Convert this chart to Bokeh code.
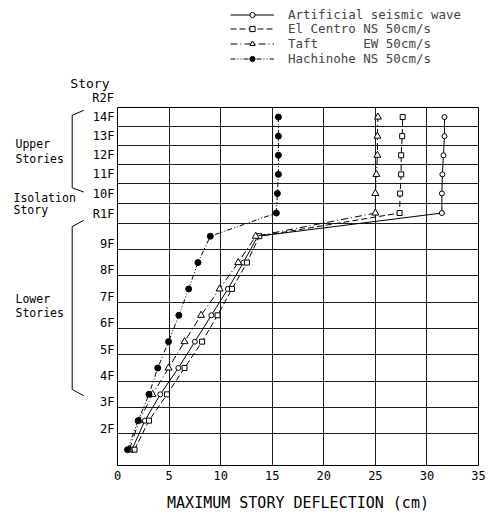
from bokeh.plotting import figure
from bokeh.models import Range1d, FixedTicker, Legend, LegendItem
from bokeh.layouts import column, row
from bokeh.core.properties import value
from bokeh.embed import file_html
from bokeh.resources import INLINE

# ---------------- data ----------------
stories = ["1F", "2F", "3F", "4F", "5F", "6F", "7F", "8F", "9F",
           "R1F", "10F", "11F", "12F", "13F", "14F"]
# relative story heights (drawing scale of the building section)
story_height = [1.2, 1.0, 1.0, 1.0, 1.0, 1.0, 1.0, 1.0, 1.0,
                0.76, 0.725, 0.725, 0.725, 0.725, 0.725]
floor_names = ["1F", "2F", "3F", "4F", "5F", "6F", "7F", "8F", "9F",
               "R1F", "10F", "11F", "12F", "13F", "14F", "R2F"]
x_ticks = [0, 5, 10, 15, 20, 25, 30, 35]

artificial = [1.4, 2.65, 4.15, 5.9, 7.5, 9.1, 10.7, 12.2, 13.6,
              31.45, 31.45, 31.5, 31.6, 31.7, 31.7]
el_centro = [1.65, 3.05, 4.8, 6.5, 8.2, 9.7, 11.1, 12.55, 13.75,
             27.35, 27.4, 27.5, 27.5, 27.6, 27.65]
taft = [1.15, 2.1, 3.4, 4.95, 6.5, 8.1, 9.9, 11.7, 13.4,
        25.0, 25.0, 25.1, 25.2, 25.2, 25.25]
hachinohe = [0.97, 2.0, 3.05, 3.9, 4.95, 5.95, 6.9, 7.8, 9.0,
             15.4, 15.5, 15.6, 15.6, 15.6, 15.6]

legend_labels = ["Artificial seismic wave",
                 "El Centro NS 50cm/s",
                 "Taft\u00a0\u00a0\u00a0\u00a0\u00a0\u00a0EW 50cm/s",
                 "Hachinohe NS 50cm/s"]

# ---------------- scale helpers ----------------
floor_levels = [0.0]
for h in story_height:
    floor_levels.append(floor_levels[-1] + h)
story_mid = [floor_levels[i] + story_height[i] / 2 for i in range(len(stories))]
top = floor_levels[-1]

FONT = "DejaVu Sans Mono"

series = [
    (artificial, "solid", "circle", 5, "white"),
    (el_centro, "6 3", "square", 5, "white"),
    (taft, "7 3 1 3", "triangle", 7, "white"),
    (hachinohe, "5 2 1 2 1 2", "circle", 6, "black"),
]

def blank(width, height, xr, yr):
    f = figure(width=width, height=height, x_range=xr, y_range=yr,
               x_axis_location=None, y_axis_location=None,
               output_backend="svg", toolbar_location=None,
               min_border_left=0, min_border_right=0, min_border_top=0, min_border_bottom=0,
               background_fill_color="white", border_fill_color="white")
    f.outline_line_color = None
    f.xgrid.visible = False
    f.ygrid.visible = False
    return f

# ---------------- top strip: legend + "Story" header ----------------
# pixel-like coordinates shifted by X0 so that the legend's proxy series fall off-canvas
TOP_H = 105
X0 = 1000
topf = blank(490, TOP_H, Range1d(X0, X0 + 490), Range1d(TOP_H, 0))
legend_rows_y = [83.3, 68.6, 53.9, 39.2]   # one legend row per series (screen offsets)
for (vals, dash, marker, size, fill), lab, ly in zip(series, legend_labels, legend_rows_y):
    ln = topf.line(vals, story_mid, line_color="black", line_width=1, line_dash=dash)
    sc = topf.scatter(vals, story_mid, marker=marker, size=size, line_color="black",
                      line_width=1, fill_color=fill)
    lg = Legend(items=[LegendItem(label=lab, renderers=[ln, sc])], location=(230, ly),
                border_line_color=None, background_fill_alpha=0,
                padding=0, margin=0, spacing=0, label_height=13, glyph_height=13,
                glyph_width=44, label_standoff=14,
                label_text_font=FONT, label_text_font_size="12.5px")
    topf.add_layout(lg)
topf.text(x=[X0 + 109], y=[83], text=["Story"], text_align="right", text_baseline="middle",
          text_font=value(FONT), text_font_size="13px", text_color="black")
topf.text(x=[X0 + 113.5], y=[97.5], text=["R2F"], text_align="right", text_baseline="middle",
          text_font=value(FONT), text_font_size="12px", text_color="black")

# ---------------- left strip: group labels + brackets ----------------
BODY_H = 521 - TOP_H
LEFT_W = 85
leftf = blank(LEFT_W, BODY_H, Range1d(0, LEFT_W), Range1d(521, TOP_H))
for txt, x, y in [("Upper", 15, 147), ("Stories", 15, 164.5),
                  ("Isolation", 13, 210.5), ("Story", 13, 224),
                  ("Lower", 15, 327), ("Stories", 15, 343.5)]:
    leftf.text(x=[x], y=[y], text=[txt], text_align="left", text_baseline="middle",
               text_font=value(FONT), text_font_size="11.5px", text_color="black")
for ys in [(108.3, 114, 198.3, 203.3), (236, 243.3, 432.7, 440)]:
    leftf.line(x=[83.3, 71.7, 71.7, 83.3], y=list(ys), line_color="black", line_width=1)

# ---------------- main chart ----------------
p = figure(width=490 - LEFT_W, height=BODY_H, x_range=Range1d(0, 35), y_range=Range1d(0, top),
           output_backend="svg", toolbar_location=None,
           min_border_left=32, min_border_right=12, min_border_top=2, min_border_bottom=56,
           background_fill_color="white", border_fill_color="white")
p.outline_line_color = "black"
p.outline_line_width = 1

p.xaxis.ticker = FixedTicker(ticks=x_ticks)
p.xaxis.axis_line_color = "black"
p.xaxis.major_tick_line_color = None
p.xaxis.major_tick_out = 0
p.xaxis.major_tick_in = 0
p.xaxis.minor_tick_line_color = None
p.xaxis.major_label_standoff = 5
p.xaxis.major_label_text_font = FONT
p.xaxis.major_label_text_font_size = "12px"
p.xaxis.major_label_text_color = "black"
p.xaxis.axis_label = "MAXIMUM STORY DEFLECTION (cm)"
p.xaxis.axis_label_text_font = FONT
p.xaxis.axis_label_text_font_size = "15px"
p.xaxis.axis_label_text_font_style = "normal"
p.xaxis.axis_label_text_color = "black"
p.xaxis.axis_label_standoff = 11

label_ticks = []
overrides = {}
for i in range(1, len(floor_names) - 1):
    off = 0.2 if i <= 8 else 0.36
    t = round(floor_levels[i] + off, 4)
    label_ticks.append(t)
    overrides[t] = floor_names[i]
p.yaxis.ticker = FixedTicker(ticks=label_ticks)
p.yaxis.major_label_overrides = overrides
p.yaxis.axis_line_color = None
p.yaxis.major_tick_line_color = None
p.yaxis.major_tick_out = 0
p.yaxis.major_tick_in = 0
p.yaxis.minor_tick_line_color = None
p.yaxis.major_label_standoff = 3
p.yaxis.major_label_text_font = FONT
p.yaxis.major_label_text_font_size = "12px"
p.yaxis.major_label_text_color = "black"

p.xgrid.ticker = FixedTicker(ticks=x_ticks)
p.ygrid.ticker = FixedTicker(ticks=floor_levels)
for g in (p.xgrid, p.ygrid):
    g.grid_line_color = "#1a1a1a"
    g.grid_line_width = 1
    g.grid_line_alpha = 1

for (vals, dash, marker, size, fill) in series:
    p.line(vals, story_mid, line_color="black", line_width=1, line_dash=dash)
    p.scatter(vals, story_mid, marker=marker, size=size, line_color="black",
              line_width=1, fill_color=fill)

layout = column(topf, row(leftf, p, spacing=0), spacing=0)
open("out.html", "w").write(file_html(layout, INLINE))
